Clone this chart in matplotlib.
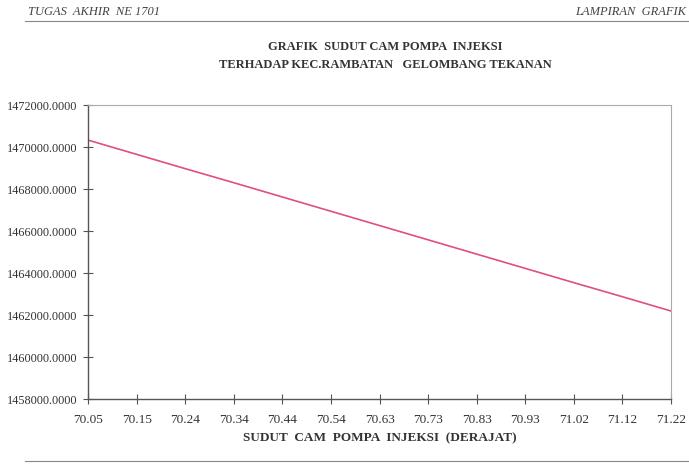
import matplotlib
matplotlib.use("Agg")
import matplotlib.pyplot as plt

x_labels = ["70.05", "70.15", "70.24", "70.34", "70.44", "70.54", "70.63",
            "70.73", "70.83", "70.93", "71.02", "71.12", "71.22"]
speed = [1470330, 1469650, 1468970, 1468300, 1467620, 1466940, 1466260,
         1465580, 1464900, 1464220, 1463540, 1462870, 1462190]
y_ticks = [1458000, 1460000, 1462000, 1464000, 1466000, 1468000, 1470000, 1472000]

title = "GRAFIK  SUDUT CAM POMPA  INJEKSI\nTERHADAP KEC.RAMBATAN   GELOMBANG TEKANAN"
xlabel = "SUDUT  CAM  POMPA  INJEKSI  (DERAJAT)"

plt.rcParams['font.family'] = ['Liberation Serif', 'DejaVu Serif']

W, H = 689, 466
fig = plt.figure(figsize=(W / 100, H / 100), dpi=100)
fig.patch.set_facecolor('white')

ax = fig.add_axes([88 / W, 1 - 399 / H, (671 - 88) / W, (399 - 105) / H])
xs = list(range(len(x_labels)))
ax.plot(xs, speed, color='#e0507a', lw=1.2)
ax.set_xlim(0, len(x_labels) - 1)
ax.set_ylim(y_ticks[0], y_ticks[-1])
ax.set_xticks(xs)
ax.set_xticklabels(x_labels, fontsize=9.5, color='#333333')
ax.set_yticks(y_ticks)
ax.set_yticklabels([f"{v:.4f}" for v in y_ticks], fontsize=8.8, color='#333333')
ax.tick_params(direction='inout', length=7, width=0.8, color='#555555')
ax.tick_params(axis='y', pad=4)
ax.tick_params(axis='x', pad=7)
for s in ['left', 'bottom']:
    ax.spines[s].set_color('#555555')
    ax.spines[s].set_linewidth(1.0)
for s in ['top', 'right']:
    ax.spines[s].set_color('#aaaaaa')
    ax.spines[s].set_linewidth(0.8)

ax.set_xlabel(xlabel, fontsize=9.5, fontweight='bold', color='#333333', labelpad=5)
fig.text(385 / W, 1 - 56 / H, title, ha='center', va='center',
         fontsize=9, fontweight='bold', color='#333333', linespacing=1.75)

# header / footer
fig.text(28 / W, 1 - 12 / H, "TUGAS  AKHIR  NE 1701", ha='left', va='center',
         fontsize=9, style='italic', color='#444444')
fig.text(686 / W, 1 - 12 / H, "LAMPIRAN  GRAFIK", ha='right', va='center',
         fontsize=9, style='italic', color='#444444')
fig.add_artist(plt.Line2D([25 / W, 1.0], [1 - 21 / H, 1 - 21 / H],
                          transform=fig.transFigure, color='#888888', lw=0.8))
fig.add_artist(plt.Line2D([25 / W, 1.0], [1 - 461 / H, 1 - 461 / H],
                          transform=fig.transFigure, color='#888888', lw=0.8))

fig.savefig("out.png", dpi=100, facecolor='white')
